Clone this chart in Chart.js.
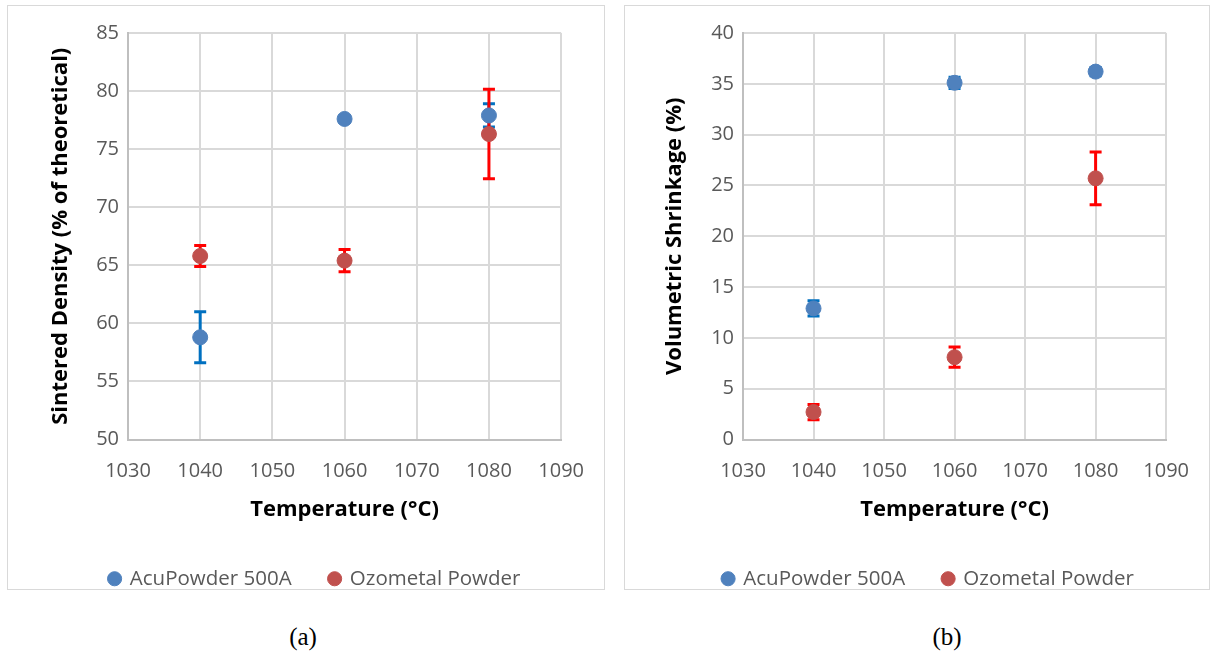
<!DOCTYPE html>
<html>
<head>
<meta charset="utf-8">
<script src="https://cdn.jsdelivr.net/npm/chart.js@4/dist/chart.umd.min.js"></script>
<style>
  body { margin: 0; background: #fff; width: 1218px; height: 658px; position: relative; overflow: hidden; }
  .frame { position: absolute; border: 1px solid #d9d9d9; pointer-events: none; }
  .holder { position: absolute; }
  .caption { position: absolute; font-family: "Liberation Serif", "Times New Roman", serif; font-size: 25px; color: #000; text-align: center; width: 60px; }
</style>
</head>
<body>
<div class="holder" style="left:8px; top:6px; width:596px; height:593px;"><canvas id="chartA"></canvas></div>
<div class="holder" style="left:625px; top:6px; width:584px; height:593px;"><canvas id="chartB"></canvas></div>
<div class="frame" style="left:7px; top:5px; width:596px; height:583px;"></div>
<div class="frame" style="left:624px; top:5px; width:584px; height:583px;"></div>
<div class="caption" style="left:273px; top:623px;">(a)</div>
<div class="caption" style="left:917px; top:623px;">(b)</div>
<script>
// temperatures (°C)
const temps = [1040, 1060, 1080];
const seriesNames = ["AcuPowder 500A", "Ozometal Powder"];

// (a) sintered density, % of theoretical
const densityAcu = [58.8, 77.6, 77.9];
const densityAcuErr = [2.2, 0.3, 1.0];
const densityOzo = [65.8, 65.4, 76.3];
const densityOzoErr = [0.9, 0.95, 3.85];

// (b) volumetric shrinkage, %
const shrinkAcu = [12.9, 35.1, 36.2];
const shrinkAcuErr = [0.75, 0.55, 0.4];
const shrinkOzo = [2.7, 8.1, 25.7];
const shrinkOzoErr = [0.75, 1.0, 2.6];

const FONT = "'Open Sans', 'Noto Sans', sans-serif";
const GRID = "#d9d9d9";
const TICK = "#595959";

// error bars, drawn under the markers
const errorBars = {
  id: "errorBars",
  beforeDatasetsDraw(chart) {
    const { ctx, scales: { x, y } } = chart;
    chart.data.datasets.forEach((ds, i) => {
      if (!chart.isDatasetVisible(i)) return;
      ctx.save();
      ctx.strokeStyle = ds.errorColor;
      ctx.lineWidth = 3;
      ds.data.forEach((p, j) => {
        const px = x.getPixelForValue(p.x);
        const top = y.getPixelForValue(p.y + ds.errors[j]);
        const bot = y.getPixelForValue(p.y - ds.errors[j]);
        ctx.beginPath();
        ctx.moveTo(px, top);
        ctx.lineTo(px, bot);
        ctx.moveTo(px - 6, top);
        ctx.lineTo(px + 6, top);
        ctx.moveTo(px - 6, bot);
        ctx.lineTo(px + 6, bot);
        ctx.stroke();
      });
      ctx.restore();
    });
  },
};

// nudge the legend sideways, like the Excel layout
const legendShift = {
  id: "legendShift",
  afterLayout(chart, args, opts) {
    if (chart.legend) {
      chart.legend.left += opts.dx;
      chart.legend.right += opts.dx;
    }
  },
};

function points(values) {
  return temps.map((t, i) => ({ x: t, y: values[i] }));
}

function makeChart(id, acu, acuErr, ozo, ozoErr, yMin, yMax, yTitle, lay) {
  const ctx = document.getElementById(id).getContext("2d");
  return new Chart(ctx, {
    type: "scatter",
    data: {
      datasets: [
        {
          label: seriesNames[0],
          data: points(acu),
          errors: acuErr,
          errorColor: "#0070c0",
          backgroundColor: "#4f81bd",
          borderColor: "#4f81bd",
          pointRadius: 7.5,
          pointHoverRadius: 7.5,
        },
        {
          label: seriesNames[1],
          data: points(ozo),
          errors: ozoErr,
          errorColor: "#ff0000",
          backgroundColor: "#c0504d",
          borderColor: "#c0504d",
          pointRadius: 7.5,
          pointHoverRadius: 7.5,
        },
      ],
    },
    options: {
      responsive: true,
      maintainAspectRatio: false,
      animation: false,
      layout: { padding: { left: 0, top: 27, right: lay.right, bottom: 0 } },
      plugins: {
        tooltip: { enabled: false },
        legendShift: { dx: lay.legendDx },
        legend: {
          position: "bottom",
          labels: {
            usePointStyle: true,
            pointStyle: "circle",
            boxWidth: 10,
            boxHeight: 10,
            padding: 38,
            color: TICK,
            font: { family: FONT, size: 20.5 },
          },
        },
      },
      scales: {
        x: {
          type: "linear",
          min: 1030,
          max: 1090,
          ticks: {
            stepSize: 10, color: TICK, padding: 20,
            font: { family: FONT, size: 20 },
            callback: (v) => String(v),
          },
          grid: { color: GRID, lineWidth: 2, drawTicks: false },
          border: { color: "#bfbfbf", width: 2 },
          title: {
            display: true,
            text: "Temperature (°C)",
            color: "#000",
            font: { family: FONT, size: 22, weight: "bold" },
            padding: { top: 0, bottom: 8 },
          },
          afterFit(scale) { scale.height = lay.xHeight; },
        },
        y: {
          min: yMin,
          max: yMax,
          ticks: {
            stepSize: 5, color: TICK, padding: 9,
            font: { family: FONT, size: 20 },
            callback: (v) => String(v),
          },
          grid: { color: GRID, lineWidth: 2, drawTicks: false },
          border: { color: "#bfbfbf", width: 2 },
          title: {
            display: true,
            text: yTitle,
            color: "#000",
            font: { family: FONT, size: 22, weight: "bold" },
            padding: { top: lay.titleLeft, bottom: 0 },
          },
          afterFit(scale) { scale.width = lay.yWidth; },
        },
      },
    },
    plugins: [errorBars, legendShift],
  });
}

makeChart("chartA", densityAcu, densityAcuErr, densityOzo, densityOzoErr, 50, 85,
  "Sintered Density (% of theoretical)", { right: 32, yWidth: 120, xHeight: 91, titleLeft: 40, legendDx: 25 });
makeChart("chartB", shrinkAcu, shrinkAcuErr, shrinkOzo, shrinkOzoErr, 0, 40,
  "Volumetric Shrinkage (%)", { right: 39, yWidth: 118, xHeight: 91, titleLeft: 37, legendDx: 31 });
</script>
</body>
</html>
